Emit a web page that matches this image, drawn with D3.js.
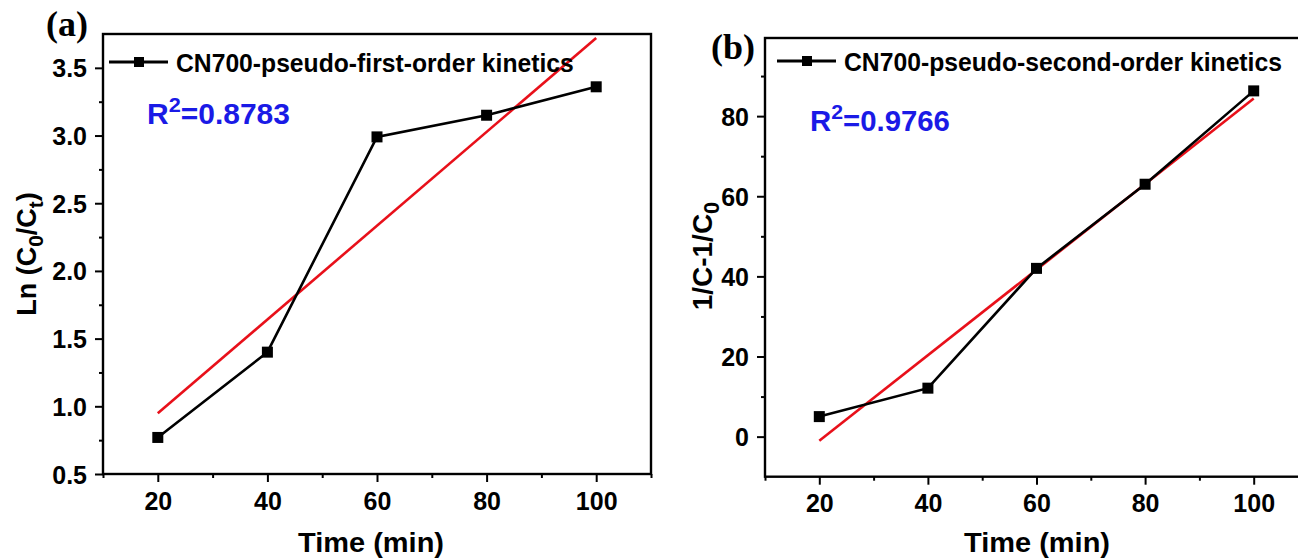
<!DOCTYPE html>
<html>
<head>
<meta charset="utf-8">
<script src="https://cdn.jsdelivr.net/npm/d3@7"></script>
<style>
  html, body { margin: 0; padding: 0; background: #fff; }
  svg { display: block; }
  .tick text { font-family: "Liberation Sans", Arial, sans-serif; font-weight: bold; font-size: 25px; fill: #000; }
  .tick line { stroke: #000; stroke-width: 2; }
</style>
</head>
<body>
<div id="chart"></div>
<script>
// kinetics data
var times = [20, 40, 60, 80, 100];
var lnRatio = [0.77, 1.40, 2.99, 3.15, 3.36];      // Ln(C0/Ct), panel (a)
var invDiff = [5.0, 12.1, 42.0, 63.0, 86.3];       // 1/C-1/C0, panel (b)
var xTicks = [20, 40, 60, 80, 100];
var xMinor = [10, 30, 50, 70, 90, 110];
var yTicksA = [0.5, 1.0, 1.5, 2.0, 2.5, 3.0, 3.5];
var yMinorA = [0.75, 1.25, 1.75, 2.25, 2.75, 3.25];
var yTicksB = [0, 20, 40, 60, 80];
var yMinorB = [10, 30, 50, 70, 90];
var legendA = "CN700-pseudo-first-order kinetics";
var legendB = "CN700-pseudo-second-order kinetics";
var r2A = "0.8783";
var r2B = "0.9766";

var W = 1298, H = 558;
var FONT = '"Liberation Sans", Arial, sans-serif';

var svg = d3.select("#chart").append("svg")
    .attr("width", W)
    .attr("height", H);

var panels = [
    {
        id: "a", tag: "(a)", tagX: 46, tagY: 36,
        values: lnRatio, yDomain: [0.5, 3.75], yTicks: yTicksA, yMinor: yMinorA, yFmt: d3.format(".1f"),
        left: 103, right: 651, top: 34, bottom: 474,
        legend: legendA, legX: 109, legY: 62, legW: 398,
        r2: r2A, r2X: 147, r2Y: 124, r2W: 143,
        titleX: 371,
        ylabX: 36, ylabY: 254, ylabSize: 27, ylab: [["Ln (C", 0], ["0", 1], ["/C", 0], ["t", 1], [")", 0]]
    },
    {
        id: "b", tag: "(b)", tagX: 711, tagY: 59,
        values: invDiff, yDomain: [-10, 99.5], yTicks: yTicksB, yMinor: yMinorB, yFmt: d3.format("d"),
        left: 765, right: 1308, top: 38, bottom: 476.7,
        legend: legendB, legX: 777, legY: 61, legW: 438,
        r2: r2B, r2X: 810, r2Y: 131, r2W: 140,
        titleX: 1037,
        ylabX: 712, ylabY: 256, ylabSize: 28, ylab: [["1/C-1/C", 0], ["0", 1]]
    }
];

// least squares line through the points
function fit(xs, ys) {
    var mx = d3.mean(xs), my = d3.mean(ys);
    var sxy = d3.sum(xs, function (d, i) { return (d - mx) * (ys[i] - my); });
    var sxx = d3.sum(xs, function (d) { return (d - mx) * (d - mx); });
    var k = sxy / sxx;
    return { k: k, b: my - k * mx };
}

// squeeze a text horizontally to a given width (anchored at its x,y)
function squeeze(t, x, y, w, anchor) {
    t.attr("x", 0).attr("y", 0);
    var len = t.node().getComputedTextLength();
    var s = w / len;
    var x0 = anchor === "middle" ? x : x;
    t.attr("transform", "translate(" + x0 + "," + y + ") scale(" + s + ",1)");
}

panels.forEach(function (p) {
    var x = d3.scaleLinear().domain([10, 110]).range([p.left, p.right]);
    var y = d3.scaleLinear().domain(p.yDomain).range([p.bottom, p.top]);
    var g = svg.append("g");

    g.append("clipPath").attr("id", "clip" + p.id)
        .append("rect")
        .attr("x", p.left).attr("y", p.top)
        .attr("width", p.right - p.left).attr("height", p.bottom - p.top);

    // minor ticks first, then major with labels
    g.append("g")
        .attr("transform", "translate(0," + p.bottom + ")")
        .call(d3.axisBottom(x).tickValues(xMinor).tickSize(4).tickFormat(""))
        .call(function (a) { a.select(".domain").remove(); });
    g.append("g")
        .attr("transform", "translate(0," + p.bottom + ")")
        .call(d3.axisBottom(x).tickValues(xTicks).tickSize(8).tickPadding(10).tickFormat(d3.format("d")))
        .call(function (a) { a.select(".domain").remove(); });
    g.append("g")
        .attr("transform", "translate(" + p.left + ",0)")
        .call(d3.axisLeft(y).tickValues(p.yMinor).tickSize(4).tickFormat(""))
        .call(function (a) { a.select(".domain").remove(); });
    g.append("g")
        .attr("transform", "translate(" + p.left + ",0)")
        .call(d3.axisLeft(y).tickValues(p.yTicks).tickSize(8).tickPadding(8).tickFormat(p.yFmt))
        .call(function (a) {
            a.select(".domain").remove();
            a.selectAll("text").attr("dy", "0.36em");
        });

    // frame
    g.append("rect")
        .attr("x", p.left).attr("y", p.top)
        .attr("width", p.right - p.left).attr("height", p.bottom - p.top)
        .attr("fill", "none").attr("stroke", "#000").attr("stroke-width", 2.4);

    // fitted line
    var f = fit(times, p.values);
    g.append("line")
        .attr("clip-path", "url(#clip" + p.id + ")")
        .attr("x1", x(times[0])).attr("y1", y(f.k * times[0] + f.b))
        .attr("x2", x(times[times.length - 1])).attr("y2", y(f.k * times[times.length - 1] + f.b))
        .attr("stroke", "#e8101a").attr("stroke-width", 2.6);

    // data line + markers
    var line = d3.line()
        .x(function (d, i) { return x(times[i]); })
        .y(function (d) { return y(d); });
    g.append("path")
        .datum(p.values)
        .attr("d", line)
        .attr("fill", "none").attr("stroke", "#000").attr("stroke-width", 2.6);
    g.selectAll(".pt")
        .data(p.values)
        .enter().append("rect")
        .attr("class", "pt")
        .attr("x", function (d, i) { return x(times[i]) - 5.5; })
        .attr("y", function (d) { return y(d) - 5.5; })
        .attr("width", 11).attr("height", 11)
        .attr("fill", "#000");

    // legend
    g.append("line")
        .attr("x1", p.legX).attr("x2", p.legX + 59)
        .attr("y1", p.legY).attr("y2", p.legY)
        .attr("stroke", "#000").attr("stroke-width", 2.8);
    g.append("rect")
        .attr("x", p.legX + 30 - 5).attr("y", p.legY - 5)
        .attr("width", 10).attr("height", 10).attr("fill", "#000");
    var lt = g.append("text")
        .style("font-family", FONT).style("font-weight", "bold").style("font-size", "26px")
        .text(p.legend);
    squeeze(lt, p.legX + 67, p.legY + 10, p.legW);

    // R^2
    var r = g.append("text")
        .style("font-family", FONT).style("font-weight", "bold").style("font-size", "29px")
        .style("fill", "#1a1ae6");
    r.append("tspan").text("R");
    r.append("tspan").attr("dy", -12).style("font-size", "21px").text("2");
    r.append("tspan").attr("dy", 12).text("=" + p.r2);
    squeeze(r, p.r2X, p.r2Y, p.r2W);

    // panel tag
    g.append("text")
        .attr("x", p.tagX).attr("y", p.tagY)
        .style("font-family", '"Liberation Serif", "Times New Roman", serif')
        .style("font-weight", "bold").style("font-size", "36px")
        .text(p.tag);

    // axis titles
    var tt = g.append("text")
        .attr("text-anchor", "middle")
        .style("font-family", FONT).style("font-weight", "bold").style("font-size", "27px")
        .text("Time (min)");
    squeeze(tt, p.titleX, 552, 146);

    var yl = g.append("text")
        .attr("transform", "translate(" + p.ylabX + "," + p.ylabY + ") rotate(-90)")
        .attr("text-anchor", "middle")
        .style("font-family", FONT).style("font-weight", "bold").style("font-size", p.ylabSize + "px");
    var shift = 0;
    p.ylab.forEach(function (s) {
        var dy = s[1] ? 7 : -shift;
        shift = s[1] ? 7 : 0;
        yl.append("tspan")
            .attr("dy", dy)
            .style("font-size", s[1] ? (p.ylabSize - 6) + "px" : p.ylabSize + "px")
            .text(s[0]);
    });
});
</script>
</body>
</html>
